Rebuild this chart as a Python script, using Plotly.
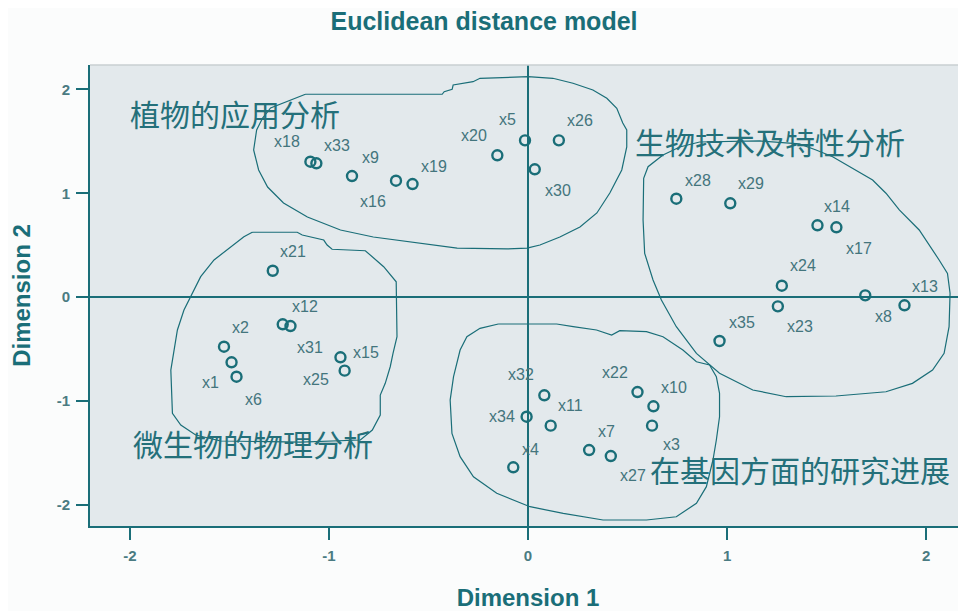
import plotly.graph_objects as go

# ---------------- data ----------------
names = ["x18", "x33", "x9", "x16", "x19", "x20", "x5", "x26", "x30",
         "x21", "x12", "x31", "x2", "x1", "x6", "x15", "x25",
         "x32", "x34", "x11", "x4", "x7", "x27", "x22", "x10", "x3",
         "x28", "x29", "x14", "x17", "x24", "x23", "x8", "x13", "x35"]
dim1 = [-1.093, -1.063, -0.884, -0.663, -0.580, -0.154, -0.015, 0.155, 0.034,
        -1.282, -1.232, -1.193, -1.527, -1.489, -1.464, -0.942, -0.921,
        0.082, -0.007, 0.114, -0.074, 0.307, 0.416, 0.550, 0.630, 0.623,
        0.745, 1.016, 1.454, 1.549, 1.275, 1.255, 1.694, 1.891, 0.962]
dim2 = [1.304, 1.289, 1.166, 1.121, 1.089, 1.366, 1.510, 1.510, 1.231,
        0.253, -0.263, -0.280, -0.479, -0.629, -0.768, -0.581, -0.710,
        -0.947, -1.154, -1.240, -1.641, -1.475, -1.533, -0.916, -1.053, -1.240,
        0.947, 0.903, 0.691, 0.672, 0.109, -0.090, 0.016, -0.080, -0.424]

# label offsets in pixels (dx, dy up)
label_dx = [-23, 21, 18, -23, 21, -23, -18, 21, 23,
            20, 22, 20, 17, -21, 17, 26, -29,
            -23, -25, 20, 17, 17, 22, -23, 21, 19,
            22, 21, 20, 23, 21, 22, 18, 21, 22]
label_dy = [20, 18, 19, -21, 18, 20, 21, 20, -21,
            19, 18, -21, 19, -20, -23, 5, -9,
            21, 0, 20, 18, 19, -19, 20, 19, -19,
            18, 20, 19, -21, 20, -20, -21, 19, 19]

# hand-drawn cluster outlines (data units)
outline_plants_x = [-1.118, -0.431, -0.421, -0.381, -0.376, -0.276, -0.241, -0.055, 0.0, 0.125, 0.226,
                    0.326, 0.396, 0.446, 0.476, 0.496, 0.496, 0.471, 0.411, 0.346, 0.261, 0.160, 0.060,
                    -0.005, -0.105, -0.356, -0.556, -0.777, -0.942, -1.108, -1.228, -1.308, -1.353,
                    -1.378, -1.363, -1.333, -1.293, -1.193, -1.118]
outline_plants_y = [1.954, 1.954, 1.979, 2.002, 2.043, 2.075, 2.108, 2.118, 2.123, 2.108, 2.060,
                    1.995, 1.915, 1.819, 1.677, 1.610, 1.446, 1.224, 1.002, 0.810, 0.675, 0.578, 0.501,
                    0.472, 0.463, 0.472, 0.520, 0.578, 0.646, 0.771, 0.906, 1.060, 1.224,
                    1.417, 1.610, 1.725, 1.822, 1.899, 1.954]

outline_micro_x = [-1.385, -1.159, -1.134, -1.026, -1.009, -0.984, -0.817, -0.725, -0.662, -0.658,
                   -0.678, -0.692, -0.717, -0.742, -0.742, -0.782, -0.842, -1.143, -1.544, -1.669,
                   -1.744, -1.786, -1.794, -1.761, -1.728, -1.686, -1.644, -1.577, -1.494, -1.427, -1.385]
outline_micro_y = [0.624, 0.624, 0.598, 0.549, 0.501, 0.460, 0.446, 0.292, 0.147, -0.383,
                   -0.543, -0.672, -0.832, -0.945, -1.137, -1.282, -1.378, -1.398, -1.388, -1.330,
                   -1.234, -1.121, -0.704, -0.318, -0.125, 0.036, 0.196, 0.357, 0.485, 0.581, 0.624]

outline_gene_x = [-0.149, 0.144, 0.227, 0.344, 0.420, 0.461, 0.595, 0.678, 0.778, 0.846, 0.912,
                  0.946, 0.962, 0.962, 0.946, 0.929, 0.896, 0.846, 0.745, 0.595, 0.377, 0.177,
                  0.010, -0.157, -0.274, -0.341, -0.382, -0.391, -0.374, -0.341, -0.307, -0.241, -0.149]
outline_gene_y = [-0.260, -0.260, -0.286, -0.318, -0.366, -0.325, -0.334, -0.383, -0.511, -0.624, -0.655,
                  -0.768, -0.928, -1.154, -1.378, -1.571, -1.828, -1.988, -2.118, -2.149, -2.149, -2.085,
                  -2.021, -1.892, -1.732, -1.539, -1.314, -0.993, -0.768, -0.511, -0.383, -0.302, -0.260]

outline_bio_x = [0.678, 0.603, 0.581, 0.578, 0.586, 0.628, 0.670, 0.745, 0.846, 0.962, 1.129, 1.297,
                 1.547, 1.798, 1.931, 2.032, 2.090, 2.115, 2.120, 2.107, 2.065, 1.965, 1.865, 1.798,
                 1.731, 1.631, 1.530, 1.447, 1.363, 1.163, 0.862, 0.762, 0.678]
outline_bio_y = [1.369, 1.256, 1.144, 0.742, 0.421, 0.164, -0.029, -0.286, -0.543, -0.735, -0.896, -0.961,
                 -0.954, -0.913, -0.832, -0.704, -0.543, -0.286, 0.036, 0.228, 0.357, 0.646, 0.839, 1.000,
                 1.128, 1.240, 1.352, 1.417, 1.475, 1.504, 1.494, 1.446, 1.369]

group_names = ["植物的应用分析", "生物技术及特性分析", "微生物的物理分析", "在基因方面的研究进展"]
group_x = [-1.474, 1.213, -1.381, 1.367]
group_y = [1.778, 1.499, -1.407, -1.655]

tick_vals = [-2, -1, 0, 1, 2]
tick_text = ["<b>-2</b>", "<b>-1</b>", "<b>0</b>", "<b>1</b>", "<b>2</b>"]

# ---------------- styles ----------------
TEAL = "#1a6e78"
LABEL = "#43757d"

fig = go.Figure()

for ox, oy in [(outline_plants_x, outline_plants_y), (outline_micro_x, outline_micro_y),
               (outline_gene_x, outline_gene_y), (outline_bio_x, outline_bio_y)]:
    fig.add_trace(go.Scatter(x=ox, y=oy, mode="lines", line=dict(color=TEAL, width=1.2),
                             hoverinfo="skip", showlegend=False))

fig.add_trace(go.Scatter(x=dim1, y=dim2, mode="markers", text=names,
                         marker=dict(symbol="circle-open", size=10, color=TEAL,
                                     line=dict(color=TEAL, width=2.4)),
                         showlegend=False))

annotations = []
for n, x, y, dx, dy in zip(names, dim1, dim2, label_dx, label_dy):
    annotations.append(dict(x=x, y=y, text=n, showarrow=False, xshift=dx, yshift=dy,
                            font=dict(family="Liberation Sans, Arial", size=16, color=LABEL)))
for g, x, y in zip(group_names, group_x, group_y):
    annotations.append(dict(x=x, y=y, text=g, showarrow=False,
                            font=dict(family="Noto Sans CJK SC", size=30, color="#24707a")))

# the page body adds an 8px offset, so margins are reduced by 8 on the left/top
fig.update_layout(
    width=966, height=611,
    margin=dict(l=82, r=8, t=57, b=93, autoexpand=False),
    paper_bgcolor="#fbfcfc",
    plot_bgcolor="#e3e9ec",
    title=dict(text="<b>Euclidean distance model</b>", x=(484 - 8) / 966, xanchor="center",
               y=1 - 13 / 611, yanchor="middle", automargin=False,
               font=dict(family="Liberation Sans, Arial", size=25, color=TEAL)),
    annotations=annotations,
    shapes=[dict(type="line", xref="paper", yref="paper", x0=0, x1=1, y0=1, y1=1,
                 line=dict(color="#c8cfd2", width=1.5))],
)

axis_common = dict(
    showgrid=False, zeroline=True, zerolinecolor=TEAL, zerolinewidth=2,
    showline=True, linecolor=TEAL, linewidth=2, automargin=False,
    ticks="outside", ticklen=12, tickwidth=2, tickcolor=TEAL,
    tickvals=tick_vals, ticktext=tick_text,
    tickfont=dict(family="Liberation Sans, Arial", size=15, color="#4a7b82"),
)
fig.update_xaxes(range=[-2.2, 2.2], **axis_common, ticklabelstandoff=3,
                 title=dict(text="<b>Dimension 1</b>", standoff=26,
                            font=dict(family="Liberation Sans, Arial", size=24, color=TEAL)))
fig.update_yaxes(range=[-2.207, 2.236], **axis_common, ticklabelstandoff=3,
                 title=dict(text="<b>Dimension 2</b>", standoff=26,
                            font=dict(family="Liberation Sans, Arial", size=24, color=TEAL)))

fig.write_html("out.html")
